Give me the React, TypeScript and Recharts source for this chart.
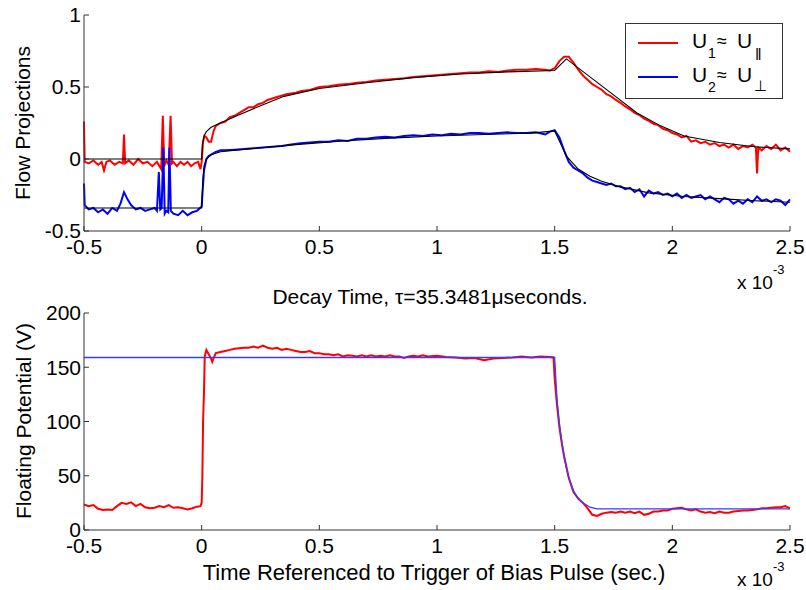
import { LineChart, Line, XAxis, YAxis } from "recharts";

const FONT = "'Liberation Sans', Arial, Helvetica, sans-serif";

// axis ticks (time in units of 1e-3 s)
const timeTicks = [-0.5, 0, 0.5, 1, 1.5, 2, 2.5];
const flowTicks = [-0.5, 0, 0.5, 1];
const potentialTicks = [0, 50, 100, 150, 200];

// U1 ≈ U|| (measured, red)
const u1Points: [number, number][] = [
  [-0.5, 0.26], [-0.497, -0.02], [-0.48, -0.03], [-0.46, -0.01], [-0.44, -0.04], [-0.425, -0.02],
  [-0.415, -0.08], [-0.405, -0.02], [-0.39, -0.01], [-0.37, -0.04], [-0.35, -0.02], [-0.335, -0.03],
  [-0.33, 0.17], [-0.325, -0.03], [-0.31, -0.01], [-0.29, -0.04], [-0.27, 0.0], [-0.25, -0.03],
  [-0.23, -0.02], [-0.21, -0.05], [-0.19, -0.02], [-0.172, -0.07], [-0.165, 0.3], [-0.159, -0.05],
  [-0.15, -0.01], [-0.14, -0.04], [-0.132, 0.3], [-0.126, -0.03], [-0.12, -0.02], [-0.105, -0.05],
  [-0.09, -0.02], [-0.075, -0.04], [-0.06, -0.02], [-0.045, -0.05], [-0.03, -0.03], [-0.015, -0.02],
  [-0.005, -0.07], [0.0, -0.02], [0.006, 0.12], [0.012, 0.16], [0.02, 0.15], [0.03, 0.12],
  [0.04, 0.12], [0.05, 0.19], [0.06, 0.23], [0.08, 0.25], [0.1, 0.26], [0.12, 0.29], [0.14, 0.3],
  [0.16, 0.32], [0.18, 0.34], [0.2, 0.36], [0.22, 0.36], [0.24, 0.38], [0.26, 0.39], [0.28, 0.41],
  [0.3, 0.42], [0.32, 0.43], [0.34, 0.44], [0.36, 0.45], [0.38, 0.455], [0.4, 0.46], [0.42, 0.47],
  [0.44, 0.475], [0.46, 0.48], [0.48, 0.49], [0.5, 0.5], [0.54, 0.505], [0.58, 0.515], [0.62, 0.52],
  [0.66, 0.53], [0.7, 0.535], [0.74, 0.545], [0.78, 0.55], [0.82, 0.555], [0.86, 0.56], [0.9, 0.57],
  [0.94, 0.575], [0.98, 0.58], [1.02, 0.585], [1.06, 0.59], [1.1, 0.595], [1.14, 0.6], [1.18, 0.6],
  [1.22, 0.61], [1.26, 0.605], [1.3, 0.615], [1.34, 0.62], [1.38, 0.62], [1.42, 0.625], [1.46, 0.62],
  [1.48, 0.615], [1.5, 0.63], [1.52, 0.68], [1.54, 0.71], [1.56, 0.71], [1.58, 0.67], [1.6, 0.62],
  [1.62, 0.58], [1.64, 0.55], [1.66, 0.52], [1.68, 0.5], [1.7, 0.48], [1.72, 0.45], [1.74, 0.435],
  [1.76, 0.41], [1.78, 0.39], [1.8, 0.365], [1.82, 0.345], [1.84, 0.32], [1.86, 0.305], [1.88, 0.28],
  [1.9, 0.265], [1.92, 0.245], [1.94, 0.235], [1.96, 0.21], [1.98, 0.2], [2.0, 0.18], [2.02, 0.17],
  [2.04, 0.15], [2.06, 0.16], [2.08, 0.12], [2.1, 0.13], [2.12, 0.11], [2.14, 0.12], [2.16, 0.1],
  [2.18, 0.11], [2.2, 0.09], [2.22, 0.1], [2.24, 0.08], [2.26, 0.1], [2.28, 0.07], [2.3, 0.09],
  [2.32, 0.08], [2.34, 0.1], [2.355, 0.08], [2.36, -0.1], [2.365, 0.08], [2.38, 0.06], [2.4, 0.09],
  [2.42, 0.07], [2.44, 0.1], [2.46, 0.06], [2.48, 0.08], [2.5, 0.05],
];

// U2 ≈ U⊥ (measured, blue)
const u2Points: [number, number][] = [
  [-0.5, -0.17], [-0.497, -0.32], [-0.48, -0.35], [-0.46, -0.34], [-0.44, -0.37], [-0.42, -0.35],
  [-0.4, -0.38], [-0.38, -0.34], [-0.36, -0.36], [-0.345, -0.31], [-0.33, -0.23], [-0.315, -0.28],
  [-0.3, -0.32], [-0.28, -0.35], [-0.26, -0.34], [-0.24, -0.36], [-0.22, -0.35], [-0.2, -0.34],
  [-0.19, -0.36], [-0.182, -0.09], [-0.176, -0.35], [-0.17, -0.34], [-0.163, 0.08], [-0.157, -0.38],
  [-0.15, -0.36], [-0.142, -0.37], [-0.137, 0.08], [-0.131, -0.36], [-0.12, -0.38], [-0.1, -0.39],
  [-0.08, -0.36], [-0.06, -0.39], [-0.04, -0.37], [-0.02, -0.36], [0.0, -0.33], [0.005, -0.2],
  [0.01, -0.08], [0.02, 0.0], [0.03, 0.02], [0.04, 0.03], [0.06, 0.05], [0.08, 0.06], [0.1, 0.06],
  [0.14, 0.065], [0.18, 0.07], [0.22, 0.075], [0.26, 0.08], [0.3, 0.085], [0.34, 0.09], [0.38, 0.1],
  [0.42, 0.11], [0.46, 0.115], [0.5, 0.12], [0.54, 0.12], [0.58, 0.13], [0.62, 0.125], [0.66, 0.14],
  [0.7, 0.14], [0.74, 0.15], [0.78, 0.155], [0.82, 0.15], [0.86, 0.16], [0.9, 0.165], [0.94, 0.16],
  [0.98, 0.17], [1.02, 0.165], [1.06, 0.175], [1.1, 0.17], [1.14, 0.18], [1.18, 0.18], [1.22, 0.175],
  [1.26, 0.18], [1.3, 0.185], [1.34, 0.18], [1.38, 0.18], [1.42, 0.185], [1.46, 0.17], [1.48, 0.19],
  [1.5, 0.2], [1.52, 0.15], [1.54, 0.06], [1.56, -0.02], [1.58, -0.06], [1.6, -0.08], [1.62, -0.1],
  [1.64, -0.13], [1.66, -0.15], [1.68, -0.16], [1.7, -0.17], [1.72, -0.18], [1.74, -0.17],
  [1.76, -0.19], [1.78, -0.19], [1.8, -0.21], [1.82, -0.2], [1.84, -0.23], [1.86, -0.21],
  [1.88, -0.26], [1.9, -0.22], [1.92, -0.24], [1.94, -0.23], [1.96, -0.25], [1.98, -0.24],
  [2.0, -0.26], [2.02, -0.24], [2.04, -0.27], [2.06, -0.25], [2.08, -0.27], [2.1, -0.26],
  [2.12, -0.25], [2.14, -0.28], [2.16, -0.26], [2.18, -0.28], [2.2, -0.3], [2.22, -0.27],
  [2.24, -0.28], [2.26, -0.31], [2.28, -0.29], [2.3, -0.31], [2.32, -0.28], [2.34, -0.3],
  [2.36, -0.26], [2.38, -0.29], [2.4, -0.28], [2.42, -0.3], [2.44, -0.28], [2.46, -0.29],
  [2.48, -0.32], [2.5, -0.28],
];

// fitted curves (black)
const fit1Points: [number, number][] = [
  [-0.5, 0], [0, 0], [0.003, 0.1], [0.01, 0.16], [0.02, 0.19], [0.04, 0.22], [0.08, 0.25],
  [0.15, 0.3], [0.25, 0.37], [0.35, 0.435], [0.5, 0.49], [0.7, 0.53], [0.9, 0.565], [1.1, 0.59],
  [1.3, 0.605], [1.5, 0.615], [1.55, 0.695], [1.75, 0.445], [1.85, 0.32], [1.95, 0.23],
  [2.05, 0.16], [2.2, 0.115], [2.35, 0.085], [2.5, 0.07],
];
const fit2Points: [number, number][] = [
  [-0.5, -0.34], [0, -0.34], [0.005, -0.15], [0.01, -0.05], [0.02, 0.0], [0.04, 0.03], [0.08, 0.05],
  [0.2, 0.07], [0.4, 0.1], [0.6, 0.125], [0.8, 0.145], [1.0, 0.16], [1.2, 0.17], [1.4, 0.18],
  [1.5, 0.195], [1.55, 0.02], [1.6, -0.07], [1.65, -0.12], [1.7, -0.155], [1.77, -0.19],
  [1.9, -0.235], [2.05, -0.26], [2.2, -0.275], [2.35, -0.29], [2.5, -0.3],
];

// floating potential (V), measured (red)
const potentialPoints: [number, number][] = [
  [-0.5, 23.5], [-0.48, 22], [-0.46, 23], [-0.44, 19.5], [-0.42, 18.5], [-0.4, 19], [-0.38, 18.5],
  [-0.36, 22], [-0.34, 25], [-0.32, 24], [-0.3, 25.5], [-0.28, 22], [-0.26, 24], [-0.24, 21],
  [-0.22, 20], [-0.2, 20.5], [-0.18, 22], [-0.16, 21], [-0.14, 23], [-0.12, 20.5], [-0.1, 21],
  [-0.08, 20], [-0.06, 19], [-0.04, 20], [-0.02, 21.5], [-0.005, 22], [0.0, 25], [0.003, 50],
  [0.006, 100], [0.01, 128], [0.013, 160], [0.02, 166], [0.03, 162], [0.04, 158], [0.045, 155],
  [0.05, 158], [0.06, 163], [0.08, 164], [0.1, 165], [0.12, 166], [0.14, 167], [0.16, 167.5],
  [0.18, 168], [0.2, 168], [0.22, 169], [0.24, 168], [0.26, 170], [0.28, 168], [0.3, 167],
  [0.32, 168], [0.34, 166], [0.36, 167], [0.38, 166], [0.4, 165], [0.42, 164], [0.44, 164],
  [0.46, 165], [0.48, 163], [0.5, 163], [0.52, 162], [0.54, 162], [0.56, 161], [0.58, 162],
  [0.6, 160], [0.62, 161], [0.64, 160.5], [0.66, 160], [0.68, 161], [0.7, 160], [0.72, 161],
  [0.74, 160], [0.76, 160.5], [0.78, 160], [0.8, 161], [0.82, 160], [0.84, 160], [0.86, 158.5],
  [0.88, 160], [0.9, 160.5], [0.92, 160], [0.94, 161], [0.96, 160], [1.0, 160.5], [1.04, 159.5],
  [1.08, 159], [1.12, 158], [1.16, 158.5], [1.2, 156.5], [1.24, 158], [1.28, 158.5], [1.32, 159],
  [1.36, 160], [1.4, 159], [1.44, 160], [1.48, 159.5], [1.495, 159], [1.5, 140], [1.51, 115],
  [1.52, 95], [1.53, 80], [1.54, 68], [1.55, 58], [1.56, 48], [1.58, 35], [1.6, 29], [1.62, 25],
  [1.64, 20], [1.66, 14], [1.68, 13], [1.7, 15], [1.72, 16], [1.74, 16.5], [1.76, 16], [1.78, 17],
  [1.8, 16], [1.82, 17], [1.84, 15.5], [1.86, 17], [1.88, 14], [1.9, 15], [1.92, 17], [1.94, 17],
  [1.96, 18], [1.98, 18], [2.0, 19.5], [2.02, 20], [2.04, 20.5], [2.06, 19], [2.08, 18], [2.1, 19],
  [2.12, 17], [2.14, 16], [2.16, 16.5], [2.18, 15.5], [2.2, 17], [2.22, 16], [2.24, 16], [2.26, 17],
  [2.28, 17.5], [2.3, 18], [2.32, 18], [2.34, 18.5], [2.36, 19], [2.38, 20], [2.4, 20], [2.42, 20.5],
  [2.44, 21], [2.46, 21], [2.48, 22], [2.5, 20],
];

// floating potential model (blue)
const potentialFitPoints: [number, number][] = [
  [-0.5, 159], [1.5, 159], [1.51, 120], [1.52, 98], [1.53, 82], [1.54, 68], [1.55, 57], [1.56, 48],
  [1.58, 36], [1.6, 29], [1.62, 25], [1.65, 21], [1.68, 19.5], [2.5, 19.5],
];

const toRows = (pts: [number, number][]) => pts.map(([t, v]) => ({ t, v }));

const tickStyle = { fill: "#000", fontSize: 21, fontFamily: FONT };
const AXIS = "#333";

const App = () => {
  return (
    <div style={{ position: "absolute", left: 0, top: 0, width: 806, height: 590, background: "#fff" }}>
      {/* top panel: flow projections */}
      <div style={{ position: "absolute", left: 0, top: 0 }}>
        <LineChart width={806} height={300} margin={{ top: 15, right: 16, bottom: 39, left: 0 }}>
          <XAxis
            dataKey="t"
            type="number"
            domain={[-0.5, 2.5]}
            ticks={timeTicks}
            interval={0}
            height={30}
            tickSize={-5}
            tickMargin={13}
            stroke={AXIS}
            tick={tickStyle}
            allowDuplicatedCategory={false}
          />
          <YAxis
            type="number"
            domain={[-0.5, 1]}
            ticks={flowTicks}
            interval={0}
            width={84}
            tickSize={-5}
            tickMargin={8}
            stroke={AXIS}
            tick={tickStyle}
          />
          <Line data={toRows(u1Points)} dataKey="v" stroke="#ff0000" strokeWidth={2} dot={false} isAnimationActive={false} />
          <Line data={toRows(u2Points)} dataKey="v" stroke="#0000ff" strokeWidth={2} dot={false} isAnimationActive={false} />
          <Line data={toRows(fit1Points)} dataKey="v" stroke="#000" strokeWidth={1.1} dot={false} isAnimationActive={false} />
          <Line data={toRows(fit2Points)} dataKey="v" stroke="#000" strokeWidth={1.1} dot={false} isAnimationActive={false} />
        </LineChart>
      </div>

      {/* bottom panel: floating potential */}
      <div style={{ position: "absolute", left: 0, top: 300 }}>
        <LineChart width={806} height={290} margin={{ top: 13, right: 16, bottom: 30, left: 0 }}>
          <XAxis
            dataKey="t"
            type="number"
            domain={[-0.5, 2.5]}
            ticks={timeTicks}
            interval={0}
            height={30}
            tickSize={-5}
            tickMargin={13}
            stroke={AXIS}
            tick={tickStyle}
            allowDuplicatedCategory={false}
          />
          <YAxis
            type="number"
            domain={[0, 200]}
            ticks={potentialTicks}
            interval={0}
            width={84}
            tickSize={-5}
            tickMargin={8}
            stroke={AXIS}
            tick={tickStyle}
          />
          <Line data={toRows(potentialPoints)} dataKey="v" stroke="#ff0000" strokeWidth={2} dot={false} isAnimationActive={false} />
          <Line data={toRows(potentialFitPoints)} dataKey="v" stroke="#3a3aff" strokeWidth={1.3} dot={false} isAnimationActive={false} />
        </LineChart>
      </div>

      {/* labels, legend and exponent notes */}
      <svg width={806} height={590} style={{ position: "absolute", left: 0, top: 0, pointerEvents: "none" }} fontFamily={FONT}>
        <text transform="translate(30,123) rotate(-90)" textAnchor="middle" fontSize={21}>Flow Projections</text>
        <text transform="translate(31,421) rotate(-90)" textAnchor="middle" fontSize={21}>Floating Potential (V)</text>
        <text x={430} y={304} textAnchor="middle" fontSize={21}>Decay Time, τ=35.3481μseconds.</text>
        <text x={434} y={580} textAnchor="middle" fontSize={22}>Time Referenced to Trigger of Bias Pulse (sec.)</text>
        <text x={737} y={289} fontSize={19}>x 10</text>
        <text x={773} y={274} fontSize={13}>-3</text>
        <text x={737} y={586} fontSize={19}>x 10</text>
        <text x={773} y={571} fontSize={13}>-3</text>

        <rect x={625.5} y={23.5} width={157} height={75} fill="#fff" stroke="#333" />
        <line x1={638} x2={678} y1={43} y2={43} stroke="#ff0000" strokeWidth={2} />
        <line x1={638} x2={678} y1={77} y2={77} stroke="#0000ff" strokeWidth={2} />
        <text x={692} y={48} fontSize={21}>U</text>
        <text x={708} y={58} fontSize={14}>1</text>
        <text x={717} y={47} fontSize={18}>≈</text>
        <text x={737} y={48} fontSize={21}>U</text>
        <text x={755} y={60} fontSize={16}>‖</text>
        <text x={692} y={82} fontSize={21}>U</text>
        <text x={708} y={92} fontSize={14}>2</text>
        <text x={717} y={81} fontSize={18}>≈</text>
        <text x={737} y={82} fontSize={21}>U</text>
        <text x={754} y={91} fontSize={15}>⊥</text>
      </svg>
    </div>
  );
};

export default App;
